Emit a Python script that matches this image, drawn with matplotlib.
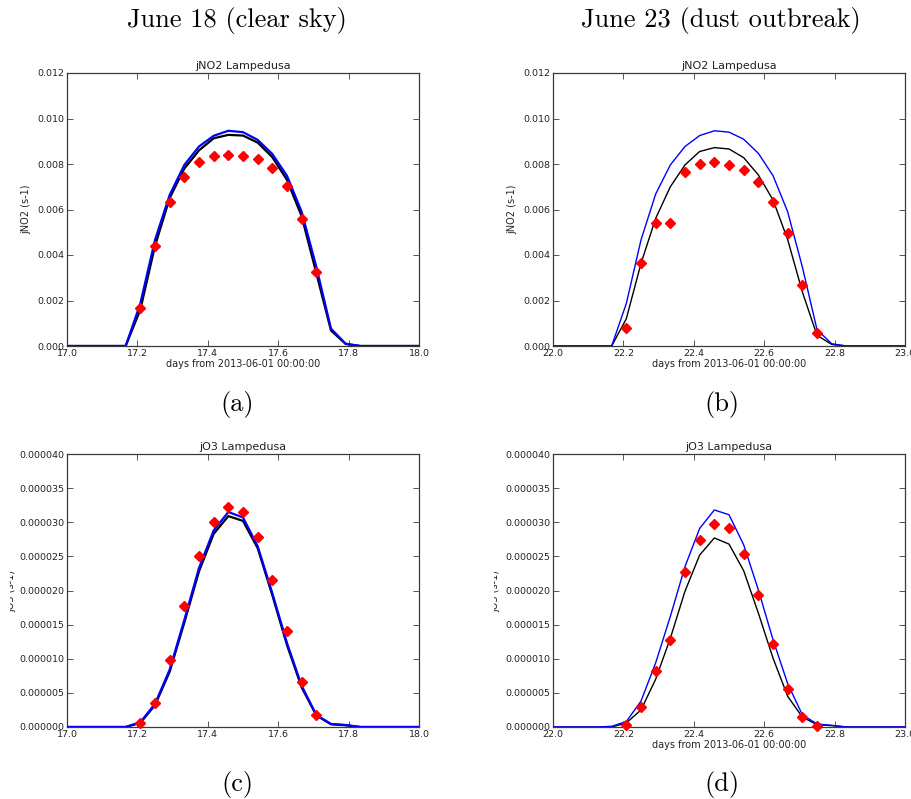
import numpy as np
import matplotlib
matplotlib.use("Agg")
import matplotlib.pyplot as plt
from matplotlib.transforms import Bbox, TransformedBbox

# Hours of the day (UTC) at which model and observations are sampled
model_hours = np.arange(0, 25)          # hourly model output, 00..24 h
obs_hours = np.arange(5, 19)            # hourly observations, 05..18 h

# --- jNO2, June 18 (clear sky) ---
jno2_a_blue = [0, 0, 0, 0, 0, 0.00187, 0.00466, 0.00664, 0.00796, 0.00877, 0.00924, 0.00946,
               0.00940, 0.00906, 0.00844, 0.00748, 0.00590, 0.00348, 0.00076, 0.00010, 0, 0, 0, 0, 0]
jno2_a_black = [0, 0, 0, 0, 0, 0.00160, 0.00440, 0.00650, 0.00780, 0.00860, 0.00913, 0.00928,
                0.00925, 0.00894, 0.00830, 0.00730, 0.00570, 0.00320, 0.00068, 0.00009, 0, 0, 0, 0, 0]
jno2_a_obs = [0.00169, 0.00439, 0.00631, 0.00744, 0.00808, 0.00835, 0.00840, 0.00837,
              0.00822, 0.00781, 0.00703, 0.00560, 0.00325, np.nan]

# --- jNO2, June 23 (dust outbreak) ---
jno2_b_blue = [0, 0, 0, 0, 0, 0.00187, 0.00466, 0.00668, 0.00796, 0.00877, 0.00925, 0.00946,
               0.00940, 0.00909, 0.00847, 0.00749, 0.00590, 0.00348, 0.00072, 0.00010, 0, 0, 0, 0, 0]
jno2_b_black = [0, 0, 0, 0, 0, 0.00120, 0.00363, 0.00561, 0.00700, 0.00796, 0.00855, 0.00872,
                0.00866, 0.00828, 0.00752, 0.00642, 0.00468, 0.00238, 0.00047, 0.00007, 0, 0, 0, 0, 0]
jno2_b_obs = [0.00081, 0.00366, 0.00542, 0.00542, 0.00765, 0.00800, 0.00810, 0.00797,
              0.00772, 0.00722, 0.00634, 0.00495, 0.00269, 0.00057]

# --- jO3, June 18 (clear sky) ---
jo3_c_blue = [0, 0, 0, 0, 0, 0.7e-6, 3.4e-6, 8.4e-6, 15.7e-6, 23.3e-6, 28.8e-6, 31.5e-6,
              30.7e-6, 26.5e-6, 19.6e-6, 12.3e-6, 6.05e-6, 1.76e-6, 0.44e-6, 0.3e-6, 0, 0, 0, 0, 0]
jo3_c_black = [0, 0, 0, 0, 0, 0.6e-6, 3.2e-6, 8.1e-6, 15.3e-6, 22.8e-6, 28.3e-6, 30.9e-6,
               30.2e-6, 26.2e-6, 19.3e-6, 12.0e-6, 5.8e-6, 1.7e-6, 0.4e-6, 0.25e-6, 0, 0, 0, 0, 0]
jo3_c_obs = [0.6e-6, 3.5e-6, 9.8e-6, 17.7e-6, 25.0e-6, 30.1e-6, 32.2e-6, 31.5e-6,
             27.9e-6, 21.6e-6, 14.0e-6, 6.6e-6, 1.76e-6, np.nan]

# --- jO3, June 23 (dust outbreak) ---
jo3_d_blue = [0, 0, 0, 0, 0.1e-6, 0.8e-6, 3.8e-6, 9.4e-6, 16.2e-6, 23.5e-6, 29.1e-6, 31.8e-6,
              31.1e-6, 26.7e-6, 20.1e-6, 12.8e-6, 6.35e-6, 1.8e-6, 0.44e-6, 0.25e-6, 0, 0, 0, 0, 0]
jo3_d_black = [0, 0, 0, 0, 0, 0.6e-6, 2.5e-6, 7.0e-6, 13.0e-6, 19.9e-6, 25.2e-6, 27.7e-6,
               26.8e-6, 22.9e-6, 16.7e-6, 10.1e-6, 4.5e-6, 1.46e-6, 0.34e-6, 0.2e-6, 0, 0, 0, 0, 0]
jo3_d_obs = [0.3e-6, 2.9e-6, 8.2e-6, 12.7e-6, 22.7e-6, 27.4e-6, 29.7e-6, 29.1e-6,
             25.4e-6, 19.4e-6, 12.2e-6, 5.6e-6, 1.4e-6, 0.15e-6]

day_a = 17
day_b = 22
column_titles = ["June 18 (clear sky)", "June 23 (dust outbreak)"]
captions = ["(a)", "(b)", "(c)", "(d)"]
xlabel = "days from 2013-06-01 00:00:00"

W, H = 912, 799
fig = plt.figure(figsize=(W / 100, H / 100), dpi=100)
fig.patch.set_facecolor("white")


def px_axes(x0, y0, x1, y1):
    return fig.add_axes([x0 / W, 1 - y1 / H, (x1 - x0) / W, (y1 - y0) / H])


tick_fs = 6.8
frame_col = "#3a3a3a"
text_col = "#222222"


def style(ax, day, ymax, yticks, fmt):
    xt = np.arange(day, day + 1.01, 0.2)
    ax.set_xlim(day, day + 1)
    ax.set_ylim(0, ymax)
    ax.set_xticks(xt)
    ax.set_xticklabels([f"{v:.1f}" for v in xt])
    ax.set_yticks(yticks)
    ax.set_yticklabels([fmt.format(v) for v in yticks])
    ax.tick_params(direction="in", length=4, width=0.6, top=True, right=True,
                   labelsize=tick_fs, colors=frame_col, pad=2, labelcolor=text_col)
    for sp in ax.spines.values():
        sp.set_color(frame_col)
        sp.set_linewidth(0.9)


def panel(ax, day, blue, black, obs, lw, ymax, yticks, fmt, title, ylabel, show_xlabel):
    xm = day + model_hours / 24.0
    xo = day + obs_hours / 24.0
    ax.plot(xm, black, color="black", lw=lw, zorder=2)
    ax.plot(xm, blue, color="blue", lw=lw, zorder=3)
    ax.plot(xo, obs, linestyle="none", marker="D", markersize=4.8, color="red",
            markeredgecolor="red", zorder=4, clip_on=False)
    style(ax, day, ymax, yticks, fmt)
    ax.set_title(title, fontsize=8, pad=3, color=text_col)
    if ylabel:
        ax.set_ylabel(ylabel, fontsize=7, color=text_col, labelpad=4)
    if show_xlabel:
        ax.set_xlabel(xlabel, fontsize=7, color=text_col, labelpad=1)


no2_ticks = np.arange(0, 0.01201, 0.002)
o3_ticks = np.arange(0, 4.01e-5, 5e-6)

ax_a = px_axes(67, 73, 419, 346)
panel(ax_a, day_a, jno2_a_blue, jno2_a_black, jno2_a_obs, 1.6, 0.012, no2_ticks, "{:.3f}",
      "jNO2 Lampedusa", "jNO2 (s-1)", True)

ax_b = px_axes(553, 73, 905, 346)
panel(ax_b, day_b, jno2_b_blue, jno2_b_black, jno2_b_obs, 1.0, 0.012, no2_ticks, "{:.3f}",
      "jNO2 Lampedusa", "jNO2 (s-1)", True)

ax_c = px_axes(67, 454, 419, 727)
panel(ax_c, day_a, jo3_c_blue, jo3_c_black, jo3_c_obs, 1.6, 4e-5, o3_ticks, "{:.6f}",
      "jO3 Lampedusa", None, False)

ax_d = px_axes(553, 454, 905, 727)
panel(ax_d, day_b, jo3_d_blue, jo3_d_black, jo3_d_obs, 1.0, 4e-5, o3_ticks, "{:.6f}",
      "jO3 Lampedusa", None, True)

# jO3 y-labels sit at the very edge of each panel and are partly cut off
for xc, xcut in ((11.5, 10), (495.5, 494)):
    t = fig.text(xc / W, 1 - 591 / H, "jO3 (s-1)", rotation=90, ha="center", va="center",
                 fontsize=7, color=text_col)
    t.set_clip_box(TransformedBbox(Bbox.from_extents(xcut / W, 0, 1, 1), fig.transFigure))
    t.set_clip_on(True)

# Column headings and panel captions in a serif face
serif = ["cmr10", "DejaVu Serif"]
cap_fs = 19
fig.text(237 / W, 1 - 21 / H, column_titles[0], ha="center", va="center",
         fontsize=cap_fs, family=serif)
fig.text(721 / W, 1 - 21 / H, column_titles[1], ha="center", va="center",
         fontsize=cap_fs, family=serif)
for (cx, cy), cap in zip([(237, 404), (722, 404), (237, 785), (722, 785)], captions):
    fig.text(cx / W, 1 - cy / H, cap, ha="center", va="center", fontsize=cap_fs, family=serif)

fig.savefig("out.png", dpi=100, facecolor="white")
